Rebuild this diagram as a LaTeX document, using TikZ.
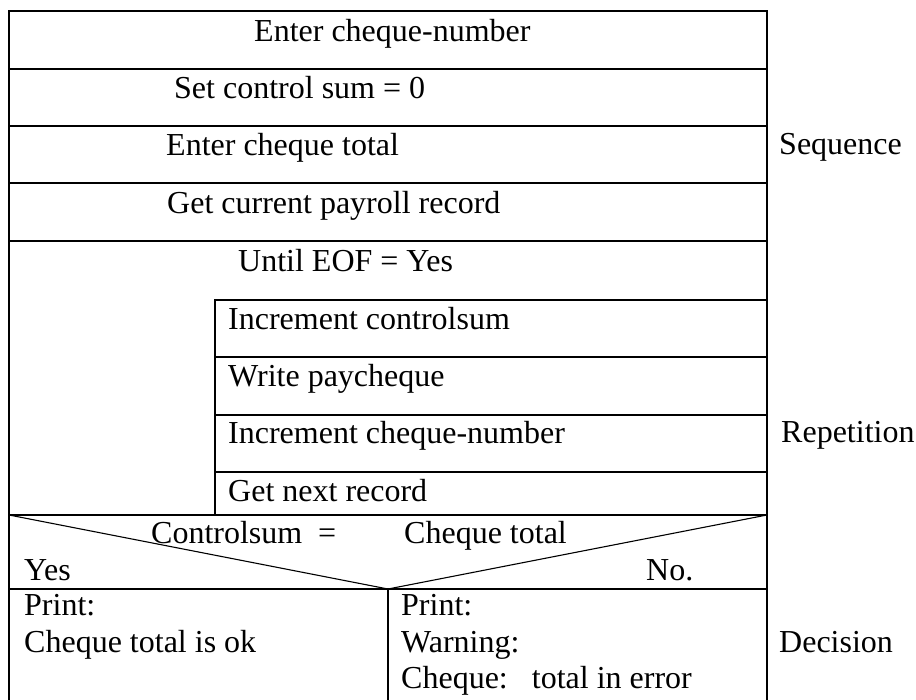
\documentclass[tikz,border=0pt]{standalone}
\usepackage{fontspec}
\setmainfont{Liberation Serif}
\begin{document}
\begin{tikzpicture}[x=1pt,y=-1pt,
  frame/.style={line width=2.2pt},
  slant/.style={line width=1.1pt},
  lbl/.style={anchor=base west,inner sep=0pt,font=\fontsize{32}{38}\selectfont}]
\useasboundingbox (0,0) rectangle (916,700);
% outer frame and sequence rows
\draw[frame] (9,700) -- (9,11) -- (767,11) -- (767,700);
\foreach \y in {69,126,183,241,515,589}
  \draw[frame] (9,\y) -- (767,\y);
% loop body
\draw[frame] (215,515) -- (215,300) -- (767,300);
\foreach \y in {357,415,472}
  \draw[frame] (215,\y) -- (767,\y);
% decision split
\draw[slant] (9,515) -- (388,589) -- (767,515);
\draw[frame] (388,589) -- (388,700);
% texts
\node[lbl] (s1) at (254,42) {Enter cheque-number};
\node[lbl] (s2) at (174,99) {Set control sum = 0};
\node[lbl] (s3) at (166,156) {Enter cheque total};
\node[lbl] (s4) at (167,214) {Get current payroll record};
\node[lbl] (loop) at (238,272) {Until EOF = Yes};
\node[lbl] (r1) at (228,330) {Increment controlsum};
\node[lbl] (r2) at (228,387) {Write paycheque};
\node[lbl] (r3) at (228,444) {Increment cheque-number};
\node[lbl] (r4) at (228,501) {Get next record};
\node[lbl] (c1) at (151,543) {Controlsum};
\node[lbl] (c2) at (318,543) {=};
\node[lbl] (c3) at (404,543) {Cheque total};
\node[lbl] (yes) at (24,580) {Yes};
\node[lbl] (no) at (646,580) {No.};
\node[lbl] (p1) at (24,615) {Print:};
\node[lbl] (p2) at (24,652) {Cheque total is ok};
\node[lbl] (q1) at (401,615) {Print:};
\node[lbl] (q2) at (401,652) {Warning:};
\node[lbl] (q3) at (401,688) {Cheque:\hspace{0.75em}total in error};
\node[lbl] (seq) at (779,155) {Sequence};
\node[lbl] (rep) at (781,443) {Repetition};
\node[lbl] (dec) at (779,652) {Decision};
\end{tikzpicture}
\end{document}
